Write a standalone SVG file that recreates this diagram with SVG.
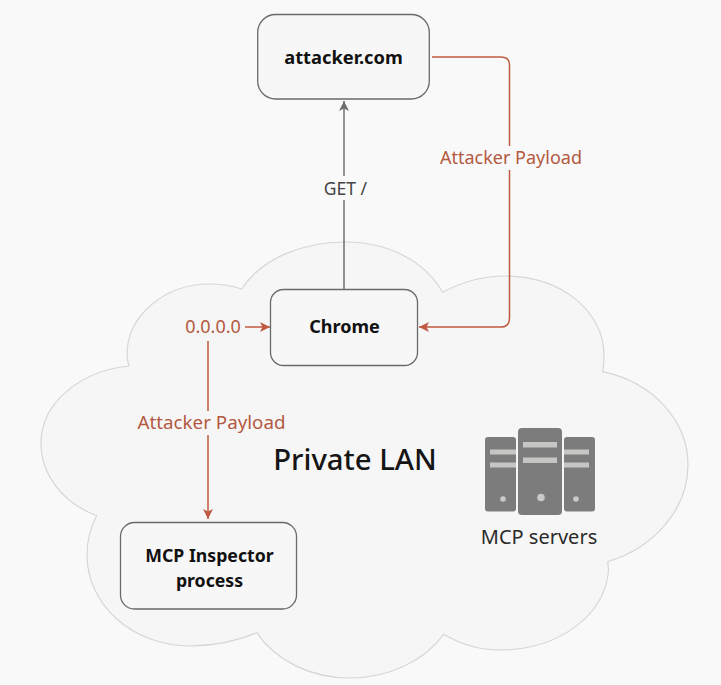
<svg xmlns="http://www.w3.org/2000/svg" width="721" height="685" viewBox="0 0 721 685">
<style>
text{font-family:"Noto Sans","Open Sans","DejaVu Sans",sans-serif;text-anchor:middle}
.box{fill:#f7f7f7;stroke:#6a6a6a;stroke-width:1.3}
.t{font-size:18px;font-weight:700;fill:#111}
.r{font-size:18px;fill:#b3593f}
.g{fill:#7b7c7b}
.b{fill:#c6c7c5}
.d{fill:#c9cac8}
.cg{fill:none;stroke:#6f6f6f;stroke-width:1.5}
.cr{fill:none;stroke:#bf5a40;stroke-width:1.5}
</style>
<defs>
<marker id="ag" markerUnits="userSpaceOnUse" markerWidth="12" markerHeight="12" refX="10" refY="5" orient="auto"><path d="M0 0L10 5L0 10L2.500 5Z" fill="#6f6f6f"/></marker>
<marker id="ar" markerUnits="userSpaceOnUse" markerWidth="12" markerHeight="12" refX="10" refY="5" orient="auto"><path d="M0 0L10 5L0 10L2.500 5Z" fill="#bf5a40"/></marker>
</defs>
<rect width="721" height="685" fill="#f9f9f9"/>
<path id="cloud" d="M241.700 289C262 258 303 242 345 242C387 242 424 260 442.700 292.300C462 282 483 276 505 276C562 276 604 312 604 355Q604 364 602.700 371.700C652 382 688 420 688 465C688 510 653 548 607.700 561.700Q609 568 608 575C602 618 556 650 500 650C479 650 460 644 443.700 634.300C425 660 390 678 350 678C310 678 275 660 256.700 632.700C237 641 214 646 190 646C133 646 87 605 87 555C87 541 90 528 96.700 515.700C63 503 41 475 41 443C41 403 80 371 129 366Q127 360 127 355C127 315 165 284 210 284Q226 284 241.700 289Z" fill="#f6f6f6" stroke="#d6d6d6" stroke-width="1.200"/>
<g id="connectors">
<path class="cg" d="M344 289V101" marker-end="url(#ag)"/>
<path class="cr" d="M432 57H501Q509.500 57 509.500 65V318Q509.500 327 501 327H419" marker-end="url(#ar)"/>
<path class="cr" d="M245 327H270" marker-end="url(#ar)"/>
<path class="cr" d="M208 341V519" marker-end="url(#ar)"/>
</g>
<g id="edge-labels">
<rect x="318" y="176" width="54" height="24" fill="#f9f9f9"/>
<text x="345.500" y="194.500" font-size="17.500" fill="#444">GET /</text>
<rect x="438" y="146" width="146" height="24" fill="#f9f9f9"/>
<text class="r" x="511" y="164">Attacker Payload</text>
<rect x="136" y="411" width="152" height="24" fill="#f6f6f6"/>
<text class="r" x="211.500" y="429" font-size="18.800" style="font-size:18.800px">Attacker Payload</text>
<text class="r" x="213" y="333">0.0.0.0</text>
</g>
<g id="attacker"><rect class="box" x="257.700" y="14.500" width="171.600" height="84.500" rx="18"/><text class="t" x="343.500" y="64" style="font-size:18.300px">attacker.com</text></g>
<g id="chrome"><rect class="box" x="270.500" y="289.500" width="147" height="76" rx="13"/><text class="t" x="344.500" y="333">Chrome</text></g>
<g id="inspector"><rect class="box" x="120.500" y="522.500" width="176" height="86.500" rx="14"/><text class="t" x="209.500" y="562" style="font-size:17.700px">MCP Inspector</text><text class="t" x="209.500" y="587" style="font-size:17.700px">process</text></g>
<g id="lan"><text x="355" y="469.500" font-size="29.300" font-weight="500" fill="#151515">Private LAN</text></g>
<g id="servers">
<rect class="g" x="485" y="437" width="31" height="74.500" rx="3"/>
<rect class="g" x="564" y="437" width="31" height="74.500" rx="3"/>
<rect class="g" x="518" y="428" width="44" height="87" rx="4"/>
<rect class="b" x="490" y="449.500" width="26" height="5"/><rect class="b" x="490" y="462.500" width="26" height="5"/>
<rect class="b" x="564" y="449.500" width="25" height="5"/><rect class="b" x="564" y="462.500" width="25" height="5"/>
<rect class="b" x="523" y="442" width="34" height="5.500"/><rect class="b" x="523" y="457.500" width="34" height="5.500"/>
<circle class="d" cx="503" cy="499" r="2.800"/><circle class="d" cx="576" cy="499" r="2.800"/><circle class="d" cx="541" cy="497.500" r="3.800"/>
<text x="539" y="544" font-size="20" fill="#2a2a2a">MCP servers</text>
</g>
</svg>
